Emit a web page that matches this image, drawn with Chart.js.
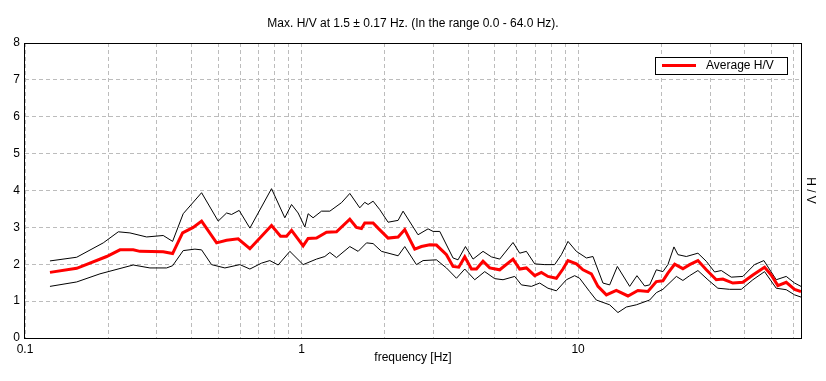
<!DOCTYPE html>
<html>
<head>
<meta charset="utf-8">
<script src="https://cdn.jsdelivr.net/npm/chart.js@4/dist/chart.umd.min.js"></script>
<style>
html,body{margin:0;padding:0;background:#fff;}
#c{display:block;}
</style>
</head>
<body>
<canvas id="c" width="826" height="381"></canvas>
<script>
// ---- data (frequency in Hz, H/V amplitude) ----
const freqAvg = [0.1231,0.1538,0.1974,0.2205,0.2462,0.2603,0.3161,0.3418,0.3714,0.4057,0.4351,0.4930,0.5358,0.5900,0.6505,0.7789,0.8396,0.8829,0.9203,1.0134,1.0565,1.133,1.231,1.338,1.495,1.580,1.647,1.693,1.815,1.891,2.056,2.235,2.362,2.567,2.714,2.909,3.075,3.342,3.531,3.703,3.893,4.116,4.291,4.532,4.792,5.209,5.818,6.151,6.504,6.970,7.369,7.783,8.348,8.818,9.194,9.860,10.42,11.17,11.80,12.66,13.75,15.15,16.46,17.89,19.19,20.27,21.13,22.35,23.94,25.32,27.13,29.09,31.61,33.40,36.29,39.45,42.87,47.25,49.94,52.78,56.60,60.66,64.0];
const avgHV = [1.78,1.89,2.21,2.39,2.39,2.35,2.34,2.29,2.85,3.00,3.17,2.58,2.65,2.69,2.42,3.05,2.76,2.76,2.92,2.50,2.70,2.71,2.87,2.88,3.22,3.00,2.97,3.12,3.12,2.98,2.71,2.74,2.94,2.41,2.48,2.53,2.52,2.26,1.94,1.92,2.20,1.87,1.87,2.08,1.90,1.85,2.14,1.87,1.90,1.69,1.78,1.67,1.62,1.87,2.10,2.01,1.85,1.74,1.40,1.17,1.29,1.14,1.29,1.26,1.53,1.55,1.76,2.00,1.88,1.99,2.10,1.85,1.58,1.60,1.49,1.51,1.71,1.92,1.71,1.42,1.51,1.32,1.26];

const freqUpper = [0.1231,0.1538,0.1919,0.2175,0.2396,0.2753,0.3161,0.3418,0.3733,0.4351,0.4996,0.5358,0.5585,0.5949,0.6505,0.7789,0.8701,0.9203,0.9721,1.028,1.0565,1.101,1.181,1.266,1.395,1.495,1.624,1.693,1.741,1.815,1.919,2.056,2.235,2.329,2.638,2.868,2.990,3.161,3.531,3.681,3.915,4.172,4.532,4.861,5.209,5.818,6.151,6.504,6.970,7.574,8.230,8.704,9.194,9.860,10.72,11.32,12.30,13.01,13.87,15.37,16.33,17.41,18.15,19.19,20.27,21.13,22.22,22.97,24.63,27.13,29.09,31.17,32.96,35.81,39.45,43.47,46.98,52.08,56.60,60.66,64.0];
const upperHV = [2.09,2.19,2.58,2.88,2.85,2.74,2.78,2.62,3.37,3.94,3.17,3.39,3.35,3.46,2.98,4.05,3.26,3.62,3.39,3.01,3.37,3.26,3.44,3.44,3.67,3.92,3.53,3.68,3.62,3.71,3.48,3.14,3.19,3.44,2.80,2.96,2.89,2.89,2.17,2.12,2.48,2.14,2.35,2.20,2.14,2.59,2.30,2.35,2.01,1.99,1.99,2.26,2.62,2.35,2.17,2.21,1.49,1.44,1.94,1.40,1.69,1.41,1.44,1.85,1.80,1.99,2.47,2.26,2.21,2.30,2.08,1.79,1.83,1.65,1.67,1.99,2.10,1.58,1.67,1.49,1.40];

const freqLower = [0.1231,0.1538,0.1867,0.2462,0.2830,0.3251,0.3418,0.3733,0.4116,0.4351,0.4727,0.5282,0.5984,0.6505,0.7167,0.7679,0.8230,0.9073,1.0134,1.133,1.214,1.266,1.338,1.495,1.602,1.718,1.815,1.946,2.235,2.362,2.603,2.751,3.075,3.342,3.633,3.893,4.230,4.597,4.994,5.354,5.901,6.240,6.780,7.265,7.783,8.348,9.073,9.721,10.13,11.01,11.64,13.01,13.94,14.95,16.24,18.15,19.19,20.27,22.67,23.94,25.32,27.13,29.48,32.03,35.31,38.93,42.87,47.25,52.08,56.60,60.66,64.0];
const lowerHV = [1.40,1.52,1.74,1.98,1.90,1.90,1.96,2.37,2.41,2.39,1.99,1.90,1.99,1.87,2.03,2.10,1.98,2.35,1.99,2.14,2.21,2.32,2.18,2.48,2.35,2.58,2.56,2.35,2.23,2.48,1.99,2.10,2.12,1.90,1.62,1.87,1.58,1.80,1.61,1.58,1.67,1.44,1.40,1.49,1.35,1.28,1.58,1.69,1.62,1.26,1.03,0.90,0.69,0.84,0.90,1.03,1.23,1.32,1.67,1.56,1.69,1.83,1.58,1.35,1.32,1.32,1.58,1.80,1.35,1.31,1.17,1.11];

const xGridFreqs = [0.1,0.2,0.3,0.4,0.5,0.6,0.7,0.8,0.9,1,2,3,4,5,6,7,8,9,10,20,30,40,50,60];
const xLabelValues = [0.1, 1, 10];
const xTickLabels = ['0.1', '1', '10'];
const yTickValues = [0,1,2,3,4,5,6,7,8];

const titleText = 'Max. H/V at 1.5 \u00B1 0.17 Hz. (In the range 0.0 - 64.0 Hz).';
const xTitle = 'frequency [Hz]';
const yTitle = 'H / V';
const legendLabel = 'Average H/V';

// ---- styles ----
const FONT = {family: "'Liberation Sans', Arial, sans-serif", size: 12, weight: 'normal'};
const GRID = '#bcbcbc';

const pts = (xs, ys) => xs.map((x, i) => ({x: x, y: ys[i]}));

const framePlugin = {
  id: 'frameAndLegend',
  afterDraw(chart) {
    const {ctx, chartArea: a} = chart;
    ctx.save();
    ctx.strokeStyle = '#000';
    ctx.lineWidth = 1;
    ctx.strokeRect(Math.round(a.left) - 0.5, Math.round(a.top) + 0.5,
                   Math.round(a.right - a.left) + 1, Math.round(a.bottom - a.top));
    // legend box
    ctx.font = `${FONT.size}px ${FONT.family}`;
    const tw = ctx.measureText(legendLabel).width;
    const bw = 7 + 34 + 10 + tw + 13, bh = 17;
    const bx = Math.round(a.right - 14 - bw), by = Math.round(a.top + 14);
    ctx.fillStyle = '#fff';
    ctx.fillRect(bx, by, bw, bh);
    ctx.strokeRect(bx + 0.5, by + 0.5, Math.round(bw), bh);
    const ds = chart.data.datasets[0];
    ctx.strokeStyle = ds.borderColor;
    ctx.lineWidth = 3;
    ctx.beginPath();
    ctx.moveTo(bx + 7, by + 8.5);
    ctx.lineTo(bx + 41, by + 8.5);
    ctx.stroke();
    ctx.fillStyle = '#000';
    ctx.textBaseline = 'middle';
    ctx.textAlign = 'left';
    ctx.fillText(ds.label, bx + 51, by + 9);
    ctx.restore();
  }
};

new Chart(document.getElementById('c'), {
  type: 'line',
  data: {
    datasets: [
      {label: legendLabel, data: pts(freqAvg, avgHV), borderColor: '#ff0000', borderWidth: 3,
       pointRadius: 0, tension: 0, fill: false},
      {label: 'upper', data: pts(freqUpper, upperHV), borderColor: '#000000', borderWidth: 1,
       pointRadius: 0, tension: 0, fill: false},
      {label: 'lower', data: pts(freqLower, lowerHV), borderColor: '#000000', borderWidth: 1,
       pointRadius: 0, tension: 0, fill: false}
    ]
  },
  options: {
    responsive: false,
    animation: false,
    devicePixelRatio: 1,
    layout: {padding: 0},
    plugins: {
      legend: {display: false},
      tooltip: {enabled: false},
      title: {display: true, text: titleText, color: '#000', font: FONT,
              padding: {top: 16, bottom: 12.6}}
    },
    scales: {
      x: {
        type: 'logarithmic', position: 'bottom', min: 0.1, max: 64,
        afterBuildTicks: s => { s.ticks = xGridFreqs.map(v => ({value: v})); },
        afterFit: s => { s.height = 43; },
        ticks: {autoSkip: false, maxRotation: 0, minRotation: 0, padding: 4, color: '#000', font: FONT,
                callback: v => { const i = xLabelValues.findIndex(t => Math.abs(t - v) < 1e-9); return i >= 0 ? xTickLabels[i] : ''; }},
        grid: {color: GRID, lineWidth: 1, drawTicks: false},
        border: {display: false, dash: [4, 3]},
        title: {display: true, text: xTitle, color: '#000', font: FONT, padding: {top: 0, bottom: 16}}
      },
      y: {
        type: 'linear', position: 'left', min: 0, max: 8,
        afterBuildTicks: s => { s.ticks = yTickValues.map(v => ({value: v})); },
        afterFit: s => { s.width = 25; },
        ticks: {padding: 5, color: '#000', font: FONT},
        grid: {color: GRID, lineWidth: 1, drawTicks: false},
        border: {display: false, dash: [4, 3]}
      },
      y2: {
        type: 'linear', position: 'right', min: 0, max: 8,
        afterFit: s => { s.width = 25; },
        ticks: {display: false},
        grid: {display: false, drawTicks: false},
        border: {display: false},
        title: {display: true, text: yTitle, color: '#000', font: FONT, padding: {top: 8, bottom: 0}}
      }
    }
  },
  plugins: [framePlugin]
});
</script>
</body>
</html>
